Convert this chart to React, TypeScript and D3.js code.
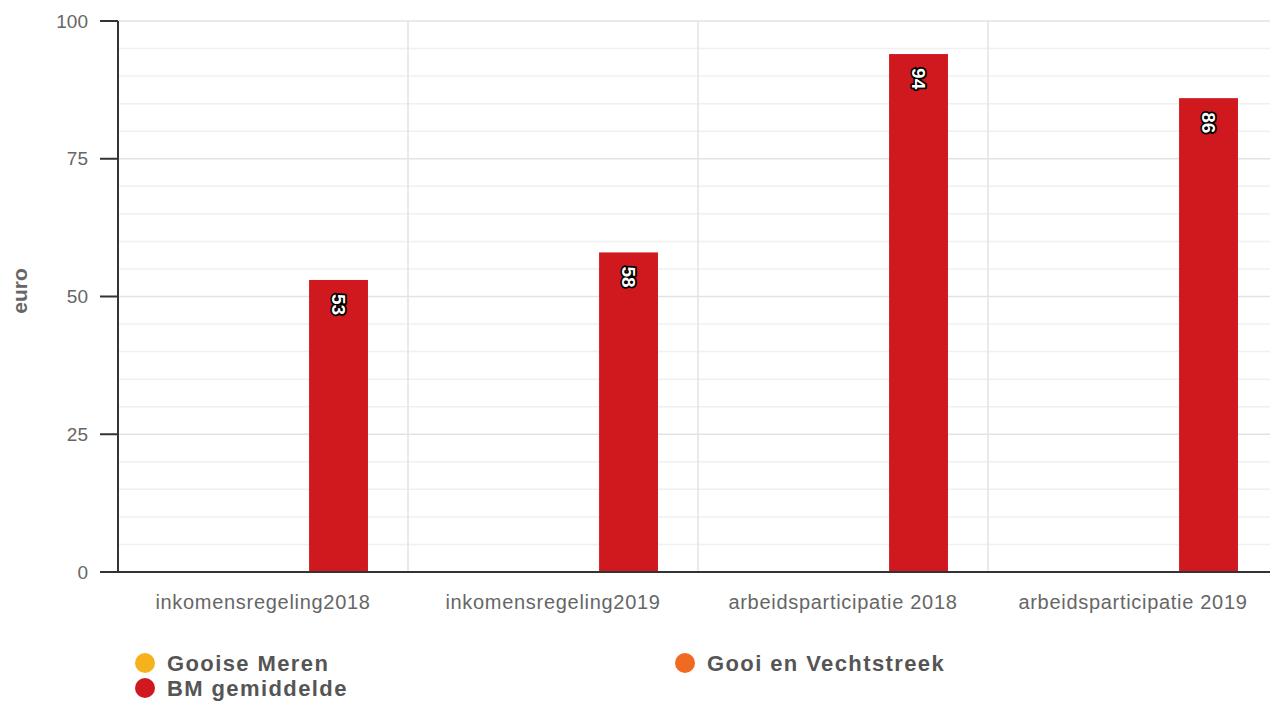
import React from 'react';
import * as d3 from 'd3';

// categories + series
const categories = ['inkomensregeling2018', 'inkomensregeling2019', 'arbeidsparticipatie 2018', 'arbeidsparticipatie 2019'];
const seriesNames = ['Gooise Meren', 'Gooi en Vechtstreek', 'BM gemiddelde'];
const seriesColors = ['#f6b21c', '#f06a22', '#d0191f'];
const gooiseMeren: (number | null)[] = [null, null, null, null];
const gooiEnVechtstreek: (number | null)[] = [null, null, null, null];
const bmGemiddelde: (number | null)[] = [53, 58, 94, 86];
const yTicks = [0, 25, 50, 75, 100];

const seriesValues = [gooiseMeren, gooiEnVechtstreek, bmGemiddelde];

const W = 1270, H = 704;
const left = 118, right = 1278, top = 21, bottom = 572;
const font = '"Liberation Sans", Arial, sans-serif';

export default function App() {
    const x0 = d3.scaleBand().domain(categories).range([left, right]);
    const x1 = d3.scaleBand().domain(seriesNames).range([0, x0.bandwidth()])
        .paddingInner(0.22).paddingOuter(0.53);
    const y = d3.scaleLinear().domain([0, 100]).range([bottom, top]);

    const minor = d3.range(0, 101, 5);

    return (
        <div style={{position: 'absolute', left: 0, top: 0}}>
            <svg width={W} height={H} style={{display: 'block', background: '#fff'}}>
                {/* grid */}
                {minor.map(v => (
                    <line key={'g' + v} x1={left} x2={W} y1={y(v)} y2={y(v)}
                        stroke={v % 25 === 0 ? '#e3e3e3' : '#f0f0f0'} strokeWidth={1.5} />
                ))}
                {categories.slice(1).map(c => (
                    <line key={'v' + c} x1={x0(c)} x2={x0(c)} y1={top} y2={bottom}
                        stroke="#e3e3e3" strokeWidth={1.5} />
                ))}

                {/* bars */}
                {categories.map((c, i) => (
                    <g key={c} transform={`translate(${x0(c)},0)`}>
                        {seriesNames.map((s, j) => {
                            const v = seriesValues[j][i];
                            if (v == null) return null;
                            const bx = x1(s)!;
                            const cx = bx + x1.bandwidth() / 2;
                            return (
                                <g key={s}>
                                    <rect x={bx} y={y(v)} width={x1.bandwidth()} height={bottom - y(v)}
                                        fill={seriesColors[j]} />
                                    <text transform={`translate(${cx},${y(v) + 14}) rotate(90)`}
                                        dominantBaseline="central" fontFamily={font} fontSize={19}
                                        fontWeight="bold" fill="#fff" stroke="#000" strokeWidth={3.5}
                                        paintOrder="stroke" strokeLinejoin="round">{v}</text>
                                </g>
                            );
                        })}
                    </g>
                ))}

                {/* axes */}
                <line x1={left} x2={left} y1={top} y2={bottom} stroke="#333" strokeWidth={2} />
                <line x1={100} x2={W} y1={bottom} y2={bottom} stroke="#333" strokeWidth={2} />
                {yTicks.map(t => (
                    <g key={'t' + t}>
                        <line x1={100} x2={left} y1={y(t)} y2={y(t)} stroke="#333" strokeWidth={2} />
                        <text x={88} y={y(t)} dy="0.35em" textAnchor="end" fontFamily={font}
                            fontSize={19} fill="#666">{t}</text>
                    </g>
                ))}
                {categories.map(c => (
                    <text key={'l' + c} x={x0(c)! + x0.bandwidth() / 2} y={609} textAnchor="middle"
                        fontFamily={font} fontSize={20} letterSpacing={0.7} fill="#666">{c}</text>
                ))}
                <text transform={`translate(27,291) rotate(-90)`} textAnchor="middle"
                    fontFamily={font} fontSize={21} fontWeight="bold" fill="#666">euro</text>

                {/* legend */}
                {seriesNames.map((s, j) => {
                    const lx = j === 1 ? 685 : 145;
                    const ly = j === 2 ? 688 : 663;
                    return (
                        <g key={'lg' + s}>
                            <circle cx={lx} cy={ly} r={10} fill={seriesColors[j]} />
                            <text x={lx + 22} y={ly} dy="0.35em" fontFamily={font} fontSize={22}
                                fontWeight="bold" letterSpacing={1.4} fill="#555">{s}</text>
                        </g>
                    );
                })}
            </svg>
        </div>
    );
}
